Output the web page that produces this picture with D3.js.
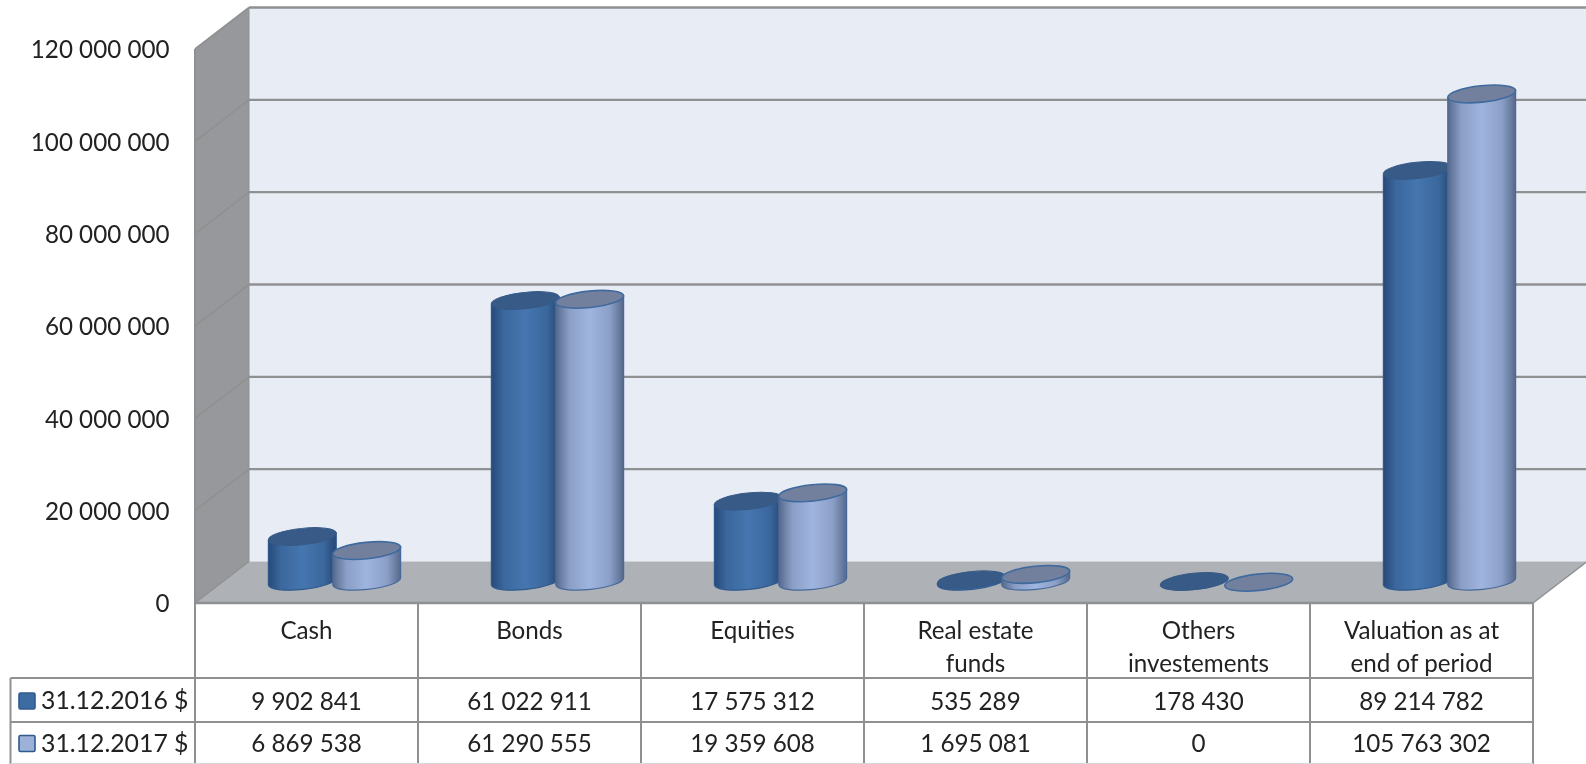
<!DOCTYPE html>
<html><head><meta charset="utf-8">
<script src="https://cdn.jsdelivr.net/npm/d3@7/dist/d3.min.js"></script>
<style>html,body{margin:0;padding:0;background:#fff;overflow:hidden}svg{display:block;filter:blur(0.45px)}text{font-family:Lato,"Open Sans",sans-serif;fill:#222}</style>
</head><body><svg id="c" width="1586" height="764"></svg>
<script>
const categories=[["Cash"],["Bonds"],["Equities"],["Real estate","funds"],["Others","investements"],["Valuation as at","end of period"]];
const seriesNames=["31.12.2016 $","31.12.2017 $"];
const values2016=[9902841,61022911,17575312,535289,178430,89214782];
const values2017=[6869538,61290555,19359608,1695081,0,105763302];
const yTicks=[0,20000000,40000000,60000000,80000000,100000000,120000000];

const W=1586,H=764,FS=24.2;
const L=195,R=1533,Y0=603,Y1=49,DX=54,DY=-41.5,TL=10.5,R1=678,R2=722;
const GRID="#8f9091";
const fmt=v=>d3.format(",")(v).replace(/,/g," ");
const svg=d3.select("#c");
const defs=svg.append("defs");
function grad(id,stops){
  const g=defs.append("linearGradient").attr("id",id).attr("x1",0).attr("x2",1).attr("y1",0).attr("y2",0);
  stops.forEach(s=>g.append("stop").attr("offset",s[0]).attr("stop-color",s[1]));
}
grad("gd",[[0,"#28497a"],[.18,"#3a679c"],[.5,"#4676b0"],[.82,"#3a679c"],[1,"#264676"]]);
grad("gl",[[0,"#56698c"],[.2,"#8b9ec6"],[.5,"#9fb5df"],[.8,"#8b9ec6"],[1,"#56698c"]]);

const y=d3.scaleLinear().domain([0,120000000]).range([Y0,Y1]);
const x=d3.scaleBand().domain(d3.range(categories.length)).range([L,R]);
const xs=d3.scaleBand().domain([0,1]).range([x.bandwidth()/2-32.2*2,x.bandwidth()/2+32.2*2]);

// walls
const pts=a=>a.map(p=>p.join(",")).join(" ");
svg.append("polygon").attr("points",pts([[L+DX,Y1+DY],[W+2,Y1+DY],[W+2,Y0+DY],[L+DX,Y0+DY]])).attr("fill","#e8ecf5");
svg.append("polygon").attr("points",pts([[L,Y1],[L+DX,Y1+DY],[L+DX,Y0+DY],[L,Y0]])).attr("fill","#97989b");
svg.append("polygon").attr("points",pts([[L,Y0],[R,Y0],[R+DX,Y0+DY],[L+DX,Y0+DY]])).attr("fill","#aeb1b5");

// gridlines
const grid=svg.append("g").attr("stroke",GRID).attr("stroke-width",2.4).attr("fill","none");
yTicks.forEach(t=>{
  if(t>0) grid.append("line").attr("x1",L+DX).attr("x2",W+2).attr("y1",y(t)+DY).attr("y2",y(t)+DY);
  if(t>0) grid.append("line").attr("x1",L).attr("x2",L+DX).attr("y1",y(t)).attr("y2",y(t)+DY).attr("stroke-width",1.6);
});
grid.append("line").attr("x1",L+DX).attr("x2",L+DX).attr("y1",Y1+DY).attr("y2",Y0+DY).attr("stroke-width",1);
grid.append("line").attr("x1",L).attr("x2",L+DX).attr("y1",Y0).attr("y2",Y0+DY).attr("stroke-width",1.4);
grid.append("line").attr("x1",R).attr("x2",R+DX).attr("y1",Y0).attr("y2",Y0+DY).attr("stroke-width",1.4);

// cylinders
const RX=34.1,RY=8.2,TILT=-6,C=Math.cos(TILT*Math.PI/180),S=Math.sin(TILT*Math.PI/180);
function drawSeries(vals,sid,topFill,topStroke,edge){
  const g=svg.append("g");
  vals.forEach((v,i)=>{
    const cx=x(i)+xs(sid)+xs.bandwidth()/2+DX/2+1;
    const yb=y(0)+DY/2-1;
    const yt=y(v)+DY/2;
    const dx=RX*C,dy=RX*S;
    if(v>0){
      g.append("path")
       .attr("d",`M${cx-dx},${yt-dy}L${cx-dx},${yb-dy}A${RX},${RY} ${TILT} 0 0 ${cx+dx},${yb+dy}L${cx+dx},${yt+dy}Z`)
       .attr("fill",`url(#${sid?"gl":"gd"})`).attr("stroke",edge).attr("stroke-width",1.2);
    }
    g.append("ellipse").attr("rx",RX).attr("ry",RY)
     .attr("transform",`translate(${cx},${yt}) rotate(${TILT})`)
     .attr("fill",topFill).attr("stroke",topStroke).attr("stroke-width",sid?1.6:1);
  });
}
drawSeries(values2016,0,"#375a87","#375a87","#2f5a8e");
drawSeries(values2017,1,"#72809e","#3f6a9e","#47699a");

// y axis
const ax=svg.append("g").attr("transform",`translate(169.5,0)`)
  .call(d3.axisLeft(y).tickValues(yTicks).tickSize(0).tickPadding(0).tickFormat(fmt));
ax.select(".domain").remove();
ax.selectAll("text").attr("font-size",FS).attr("dy","0.36em");

// data table
const tl=svg.append("g").attr("stroke",GRID).attr("stroke-width",2);
const ln=(a,b,c,d)=>tl.append("line").attr("x1",a).attr("y1",b).attr("x2",c).attr("y2",d);
ln(L,Y1,L,H);
d3.range(categories.length).forEach(i=>ln(x(i)+x.bandwidth(),Y0,x(i)+x.bandwidth(),H));
ln(L,Y0,R,Y0).attr("stroke-width",2.4);
ln(TL,R1,R,R1);ln(TL,R2,R,R2);ln(TL,R1,TL,H);
ln(TL,H-.5,R,H-.5).attr("stroke","#d6d6d6").attr("stroke-width",1);

const ct=svg.append("g").attr("text-anchor","middle").attr("font-size",FS);
categories.forEach((lines,i)=>lines.forEach((s,k)=>
  ct.append("text").attr("x",x(i)+x.bandwidth()/2).attr("y",630+k*33).attr("dy","0.36em").text(s)));
const rowY=[701,743.5];
[values2016,values2017].forEach((vals,r)=>{
  vals.forEach((v,i)=>ct.append("text").attr("x",x(i)+x.bandwidth()/2).attr("y",rowY[r]).attr("dy","0.36em").text(fmt(v)));
});
// legend
const keyF=["#3d6ca3","#9cb0d8"],keyS=["#2f5a8e","#2f5a8e"];
seriesNames.forEach((n,r)=>{
  const yy=rowY[r];
  svg.append("rect").attr("x",19).attr("y",yy-8).attr("width",16).attr("height",16).attr("rx",1.5)
    .attr("fill",keyF[r]).attr("stroke",keyS[r]).attr("stroke-width",1.6);
  svg.append("text").attr("x",41).attr("y",yy-.5).attr("dy","0.36em").attr("font-size",24.8).text(n);
});
</script></body></html>
